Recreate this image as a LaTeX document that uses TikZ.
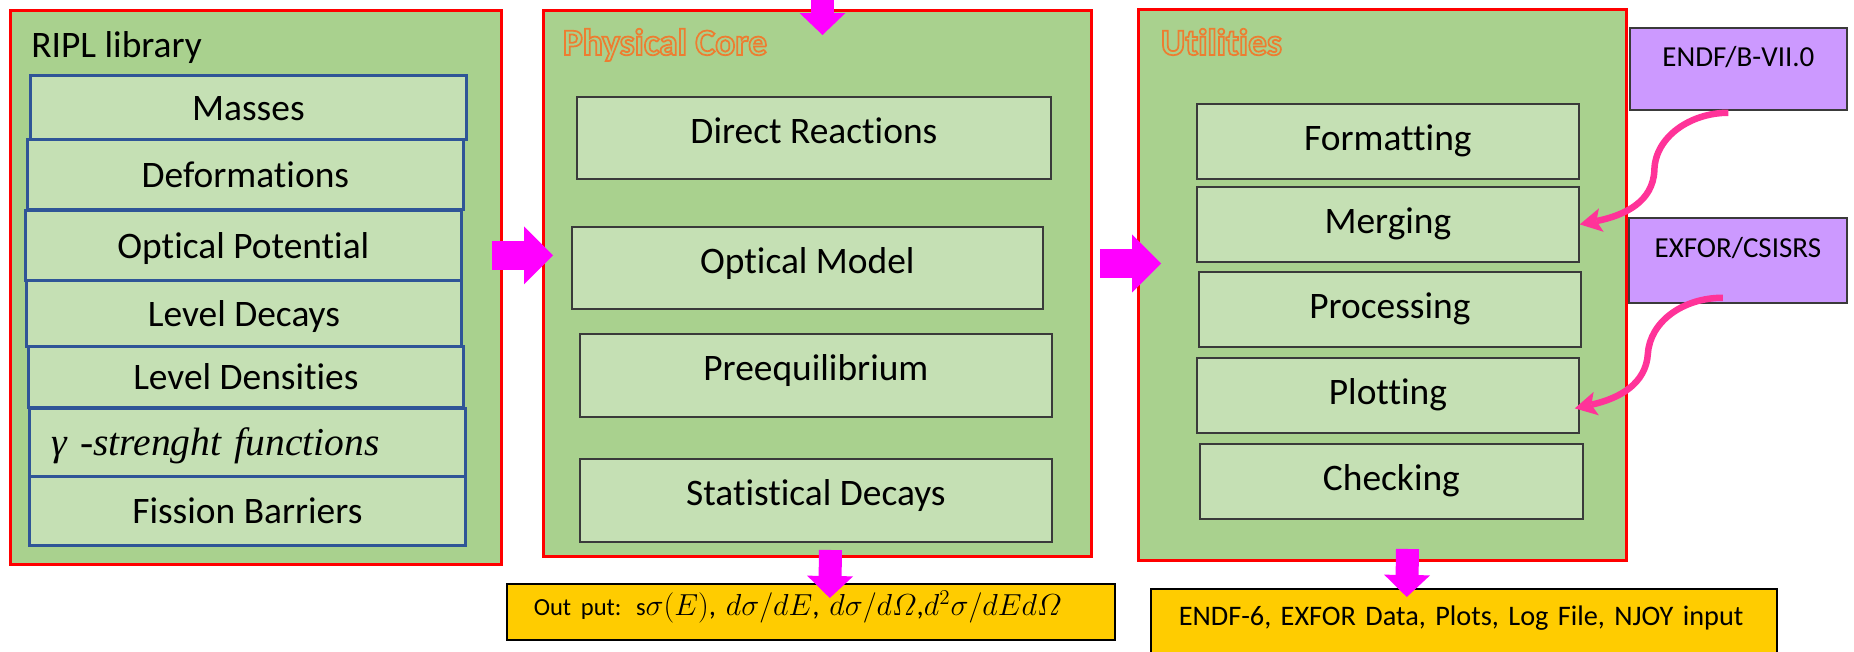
\documentclass[tikz,border=0pt]{standalone}
\usepackage{fontspec}
\usepackage{amsmath}
\setmainfont{Carlito}[Ligatures=NoCommon]
\newfontfamily\gammafont{Liberation Serif}
\usetikzlibrary{arrows.meta,calc}

\definecolor{panelgreen}{HTML}{A9D18E}
\definecolor{boxgreen}{HTML}{C5E0B4}
\definecolor{ripblue}{HTML}{2F5597}
\definecolor{boxedge}{HTML}{3A3A3A}
\definecolor{srcpurple}{HTML}{CC99FF}
\definecolor{outyellow}{HTML}{FFCC00}
\definecolor{flowmag}{HTML}{FF00FF}
\definecolor{feedpink}{HTML}{FF3399}
\definecolor{titleorange}{HTML}{ED7D31}

% one unit = one pixel of the layout
\newlength\pxu
\setlength\pxu{0.02cm}
\newcommand{\mainsize}{\fontsize{21.3}{25}\selectfont}
\newcommand{\srcsize}{\fontsize{16.5}{20}\selectfont}
% hollow (stroked) lettering for the panel titles
\newcommand{\outlined}[1]{\special{pdf:literal direct 1 Tr}#1\special{pdf:literal direct 0 Tr}}

\tikzset{
  panel/.style={draw=red, line width=1.7pt, fill=panelgreen, anchor=north west, inner sep=0pt},
  title/.style={anchor=base west, inner sep=0pt, font=\mainsize},
  ripbox/.style={draw=ripblue, line width=1.6pt, fill=boxgreen, anchor=north west, inner sep=0pt,
    font=\mainsize, text height=15pt, text depth=0.5pt},
  modbox/.style={draw=boxedge, line width=1pt, fill=boxgreen, anchor=north west, inner sep=0pt,
    font=\mainsize, text height=15pt, text depth=9pt},
  utilbox/.style={modbox, text depth=4.5pt},
  srcbox/.style={draw=boxedge, line width=1pt, fill=srcpurple, anchor=north west, inner sep=0pt,
    font=\srcsize, text height=12pt},
  outbox/.style={draw=black, line width=0.9pt, fill=outyellow, anchor=north west, inner ysep=0pt, align=left},
  % tip sizes in cm (0.02cm per layout pixel)
  bigarrow/.style={draw=flowmag, line width=0.58cm, -{Triangle[length=0.58cm, width=1.16cm, line width=0pt]}},
  smallarrow/.style={draw=flowmag, line width=0.46cm, -{Triangle[length=0.44cm, width=0.92cm, line width=0pt]}},
  feedarrow/.style={draw=feedpink, line width=3.7pt, -{Stealth[length=0.44cm, width=0.48cm, inset=0.1cm, line width=0pt]}},
}

\begin{document}
\begin{tikzpicture}[x=1\pxu, y=-1\pxu]
    \useasboundingbox (0,0) rectangle (1854,652);

    % three panels
    \node[panel, minimum width=491\pxu, minimum height=554\pxu] (ripl) at (9,9) {};
    \node[panel, minimum width=548\pxu, minimum height=546\pxu] (core) at (542,9) {};
    \node[panel, minimum width=488\pxu, minimum height=551\pxu] (util) at (1137,8) {};

    \node[title] (ripltitle) at (31,58) {RIPL library};
    \node[title, font=\mainsize\bfseries, text=titleorange, line width=1pt] (coretitle) at (562,55) {\outlined{Physical Core}};
    \node[title, font=\mainsize\bfseries, text=titleorange, line width=1pt] (utiltitle) at (1160,55) {\outlined{Utilities}};

    % RIPL entries
    \node[ripbox, minimum width=436\pxu, minimum height=64\pxu] (masses) at (29,74) {Masses};
    \node[ripbox, minimum width=436\pxu, minimum height=70\pxu] (deform) at (26,138) {Deformations};
    \node[ripbox, minimum width=436\pxu, minimum height=70\pxu] (optpot) at (24,209) {Optical Potential};
    \node[ripbox, minimum width=435\pxu, minimum height=66\pxu] (lvldec) at (25,279) {Level Decays};
    \node[ripbox, minimum width=435\pxu, minimum height=61\pxu] (lvlden) at (27,345) {Level Densities};
    \node[ripbox, minimum width=436\pxu, minimum height=68\pxu, inner xsep=22\pxu, text width=392\pxu, align=left,
        font=\gammafont\itshape\fontsize{22.5}{27}\selectfont] (gamma) at (28,407) {γ -strenght functions};
    \node[ripbox, minimum width=436\pxu, minimum height=69\pxu] (fission) at (28,475) {Fission Barriers};

    % physics modules
    \node[modbox, minimum width=474\pxu, minimum height=82\pxu] (direct) at (576,96) {Direct Reactions};
    \node[modbox, minimum width=471\pxu, minimum height=82\pxu] (optmod) at (571,226) {Optical Model};
    \node[modbox, minimum width=472\pxu, minimum height=83\pxu] (preeq) at (579,333) {Preequilibrium};
    \node[modbox, minimum width=472\pxu, minimum height=83\pxu] (statdec) at (579,458) {Statistical Decays};

    % utilities
    \node[utilbox, minimum width=382\pxu, minimum height=75\pxu] (fmt) at (1196,103) {Formatting};
    \node[utilbox, minimum width=382\pxu, minimum height=75\pxu] (merge) at (1196,186) {Merging};
    \node[utilbox, minimum width=382\pxu, minimum height=75\pxu] (proc) at (1198,271) {Processing};
    \node[utilbox, minimum width=382\pxu, minimum height=75\pxu] (plot) at (1196,357) {Plotting};
    \node[utilbox, minimum width=383\pxu, minimum height=75\pxu] (check) at (1199,443) {Checking};

    % external data
    \node[srcbox, minimum width=217\pxu, minimum height=82\pxu, text depth=14.4pt] (endf) at (1629,27) {ENDF/B-VII.0};
    \node[srcbox, minimum width=218\pxu, minimum height=85\pxu, text depth=15.6pt] (exfor) at (1628,217) {EXFOR/CSISRS};

    % results
    \node[outbox, minimum width=608\pxu, minimum height=56\pxu, inner xsep=27\pxu, text width=554\pxu,
        font=\fontsize{16.5}{20}\selectfont, text height=12pt, text depth=7.4pt] (out1) at (506,583)
        {\mbox{{\fontsize{14}{16}\selectfont Out put: s}$\sigma(E)$, $d\sigma/dE$, $d\sigma/d\varOmega$,$d^2\sigma/dEd\varOmega$}};
    \node[outbox, minimum width=626\pxu, minimum height=80\pxu, inner xsep=28\pxu, text width=570\pxu,
        font=\fontsize{16.1}{20}\selectfont, text height=12pt, text depth=15.4pt] (out2) at (1150,588)
        {\mbox{ENDF-6, EXFOR Data, Plots, Log File, NJOY input}};

    % main flow
    \coordinate (feed) at ($(core.north)+(5,-30)$);
    \draw[smallarrow] (feed) -- ($(core.north)+(5,26)$);
    \draw[bigarrow] ($(ripl.east)+(-11,-32)$) -- ($(core.west)+(11,-28)$);
    \draw[bigarrow] ($(core.east)+(7,-20)$) -- ($(util.west)+(24,-21.5)$);
    \draw[smallarrow] ($(core.south)+(13,-8)$) -- ($(out1.north)+(19,15)$);
    \draw[smallarrow] ($(util.south)+(25,-13)$) -- ($(out2.north)+(-57,9)$);

    % data fed into the utilities
    \coordinate (bendA) at ($(endf.south)+(-84,59)$);
    \coordinate (bendB) at ($(exfor.south)+(-90,50)$);
    \draw[feedarrow] ($(endf.south)+(-10,2)$) .. controls +(-38,0) and +(1,-33) .. (bendA)
        .. controls +(-1,32) and +(45,-9) .. (merge.east);
    \draw[feedarrow] ($(exfor.south)+(-15,-6)$) .. controls +(-40,0) and +(2,-32) .. (bendB)
        .. controls +(-2,30) and +(45,-10) .. ($(plot.east)+(-5,13)$);
\end{tikzpicture}
\end{document}
